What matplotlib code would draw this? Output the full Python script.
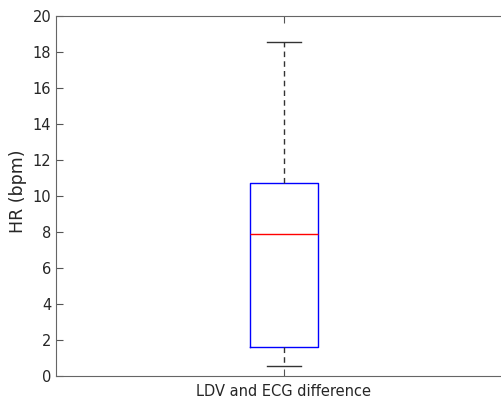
import matplotlib
matplotlib.use("Agg")
import matplotlib.pyplot as plt

# box statistics of the heart-rate difference (bpm)
labels = ["LDV and ECG difference"]
whislo = [0.55]
q1 = [1.61]
med = [7.9]
q3 = [10.72]
whishi = [18.56]

stats = [dict(label=labels[i], whislo=whislo[i], q1=q1[i], med=med[i],
              q3=q3[i], whishi=whishi[i], fliers=[])
         for i in range(len(labels))]

plt.rcParams['font.family'] = ['DejaVu Sans']
fig = plt.figure(figsize=(5.02, 4.01), dpi=100)
ax = fig.add_axes([56 / 502, 25 / 401, 456 / 502, 360 / 401])

ax.bxp(stats, positions=[1], widths=0.15, showfliers=False,
       boxprops=dict(color='blue', linewidth=1),
       medianprops=dict(color='red', linewidth=1),
       whiskerprops=dict(color='#333333', linestyle=(0, (4, 3)), linewidth=1),
       capprops=dict(color='#333333', linewidth=1))

ax.set_xlim(0.5, 1.5)
ax.set_ylim(0, 20)
ax.set_yticks(range(0, 21, 2))
ax.set_ylabel("HR (bpm)", fontsize=12.5, color='#262626')
ax.yaxis.set_label_coords(-0.064, 0.514)
ax.tick_params(direction='in', length=5, colors='#555555', labelcolor='#262626',
               labelsize=10.5, top=True)
ax.tick_params(axis='x', pad=6)
for s in ax.spines.values():
    s.set_color('#666666')

fig.savefig("out.png", dpi=100)
